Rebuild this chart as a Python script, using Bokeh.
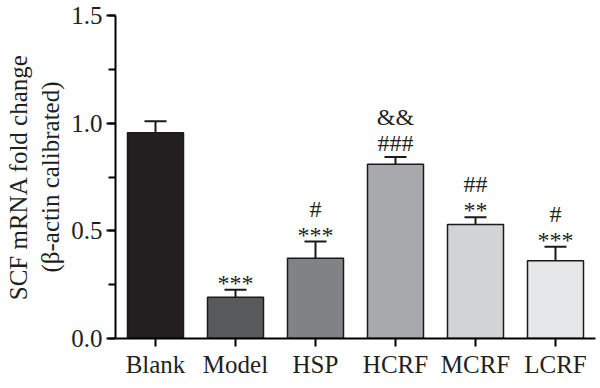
from bokeh.plotting import figure
from bokeh.models import ColumnDataSource, Range1d, FixedTicker, SingleIntervalTicker, NumeralTickFormatter, Whisker, TeeHead
from bokeh.core.properties import value
from bokeh.embed import file_html
from bokeh.resources import INLINE

categories = ["Blank", "Model", "HSP", "HCRF", "MCRF", "LCRF"]
means = [0.955, 0.192, 0.373, 0.809, 0.529, 0.361]
sems = [0.054, 0.034, 0.077, 0.034, 0.034, 0.065]
colors = ["#231f20", "#58595b", "#808285", "#a7a9ac", "#d1d3d4", "#e6e7e8"]
sig_lower = ["", "***", "***", "###", "**", "***"]
sig_upper = ["", "", "#", "&&", "##", "#"]

FONT = "Liberation Serif"
xs = list(range(len(categories)))
tops = [m + s for m, s in zip(means, sems)]
raise_px = [7 if t.startswith("#") else 0 for t in sig_lower]

src = ColumnDataSource(dict(
    x=xs, mean=means, top=tops, color=colors,
    low=sig_lower, up=sig_upper,
    off1=[-7 - r for r in raise_px],
    off2=[-33 - r for r in raise_px],
))

p = figure(width=600, height=388, output_backend="svg", toolbar_location=None,
           x_range=Range1d(-0.5, 5.5), y_range=Range1d(0, 1.5),
           min_border_left=115, min_border_right=5, min_border_top=15, min_border_bottom=50)
p.outline_line_color = None
p.xgrid.visible = False
p.ygrid.visible = False
p.background_fill_color = "white"

p.vbar(x="x", top="mean", width=0.7, bottom=0, source=src, fill_color="color",
       line_color="#1a1a1a", line_width=1.5)

w = Whisker(base="x", lower="mean", upper="top", source=src, line_color="#1a1a1a", line_width=2,
            upper_head=TeeHead(size=22, line_color="#1a1a1a", line_width=2), lower_head=None)
p.add_layout(w)

p.text(x="x", y="top", text="low", source=src, y_offset="off1", text_align="center",
       text_baseline="alphabetic", text_font=value(FONT), text_font_size="24px", text_color="#231f20")
p.text(x="x", y="top", text="up", source=src, y_offset="off2", text_align="center",
       text_baseline="alphabetic", text_font=value(FONT), text_font_size="24px", text_color="#231f20")

xa = p.xaxis[0]
xa.ticker = FixedTicker(ticks=xs)
xa.major_label_overrides = {i: c for i, c in zip(xs, categories)}
xa.minor_tick_line_color = None
xa.major_tick_out = 8
xa.major_tick_in = 0
xa.axis_line_width = 2
xa.major_tick_line_width = 2
xa.major_label_text_font = FONT
xa.major_label_text_font_size = "25px"
xa.major_label_text_color = "#231f20"
xa.major_label_standoff = 4

ya = p.yaxis[0]
ya.ticker = SingleIntervalTicker(interval=0.5, num_minor_ticks=2)
ya.formatter = NumeralTickFormatter(format="0.0")
ya.major_tick_out = 9
ya.major_tick_in = 0
ya.minor_tick_out = 7
ya.minor_tick_in = 0
ya.axis_line_width = 2
ya.major_tick_line_width = 2
ya.minor_tick_line_width = 2
ya.major_label_text_font = FONT
ya.major_label_text_font_size = "25px"
ya.major_label_text_color = "#231f20"
ya.major_label_standoff = 4
ya.axis_label = "SCF mRNA fold change\n(β-actin calibrated)"
ya.axis_label_text_font = FONT
ya.axis_label_text_font_size = "25px"
ya.axis_label_text_font_style = "normal"
ya.axis_label_text_color = "#231f20"
ya.axis_label_standoff = 4

open("out.html", "w").write(file_html(p, INLINE))
